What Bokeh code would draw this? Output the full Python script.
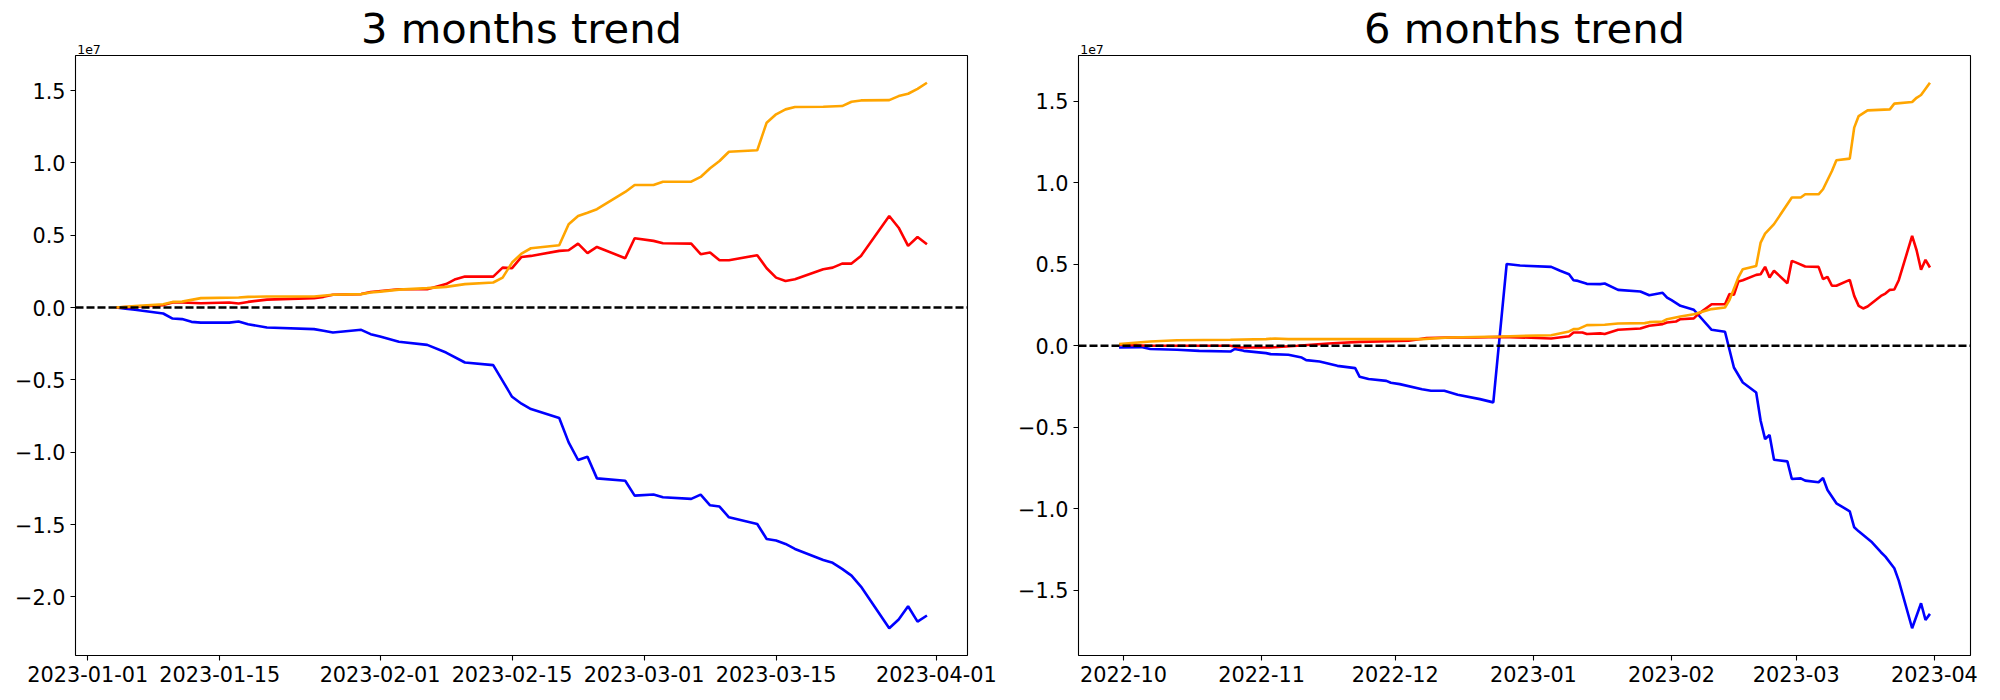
import numpy as np
import pandas as pd
from bokeh.plotting import figure
from bokeh.layouts import row
from bokeh.models import (Range1d, Span, Title, SingleIntervalTicker, FixedTicker,
                          DatetimeTickFormatter, CustomJSTickFormatter, AllLabels)
from bokeh.embed import file_html
from bokeh.resources import INLINE

SCALE = 1e7  # values below are in units of 1e7

# ---------------- 3 months panel ----------------
blue_3m_dates = [
    "2023-01-04", "2023-01-05", "2023-01-06", "2023-01-09", "2023-01-10", "2023-01-11", "2023-01-12",
    "2023-01-13", "2023-01-16", "2023-01-17", "2023-01-18", "2023-01-20", "2023-01-25", "2023-01-26",
    "2023-01-27", "2023-01-30", "2023-01-31",
    "2023-02-01", "2023-02-03", "2023-02-06", "2023-02-08", "2023-02-10", "2023-02-13", "2023-02-15",
    "2023-02-16", "2023-02-17", "2023-02-20", "2023-02-21", "2023-02-22", "2023-02-23", "2023-02-24",
    "2023-02-27", "2023-02-28",
    "2023-03-02", "2023-03-03", "2023-03-06", "2023-03-07", "2023-03-08", "2023-03-09", "2023-03-10",
    "2023-03-13", "2023-03-14", "2023-03-15", "2023-03-16", "2023-03-17", "2023-03-20", "2023-03-21",
    "2023-03-22", "2023-03-23", "2023-03-24", "2023-03-27", "2023-03-28", "2023-03-29", "2023-03-30",
    "2023-03-31"]
blue_3m = [
    0.000, -0.008, -0.015, -0.041, -0.076, -0.080, -0.099,
    -0.104, -0.104, -0.097, -0.115, -0.138, -0.149, -0.161,
    -0.173, -0.154, -0.184,
    -0.200, -0.237, -0.258, -0.311, -0.380, -0.398, -0.617,
    -0.665, -0.702, -0.764, -0.932, -1.054, -1.031, -1.181,
    -1.197, -1.300,
    -1.293, -1.312, -1.323, -1.293, -1.367, -1.376, -1.450,
    -1.496, -1.600, -1.611, -1.634, -1.669, -1.745, -1.765,
    -1.807, -1.853, -1.929, -2.217, -2.157, -2.065, -2.171,
    -2.129]

red_3m_dates = [
    "2023-01-04", "2023-01-05", "2023-01-06", "2023-01-09", "2023-01-10", "2023-01-11", "2023-01-13",
    "2023-01-16", "2023-01-17", "2023-01-18", "2023-01-20", "2023-01-25", "2023-01-26", "2023-01-27",
    "2023-01-30", "2023-01-31",
    "2023-02-03", "2023-02-06", "2023-02-08", "2023-02-09", "2023-02-10", "2023-02-13", "2023-02-14",
    "2023-02-15", "2023-02-16", "2023-02-17", "2023-02-20", "2023-02-21", "2023-02-22", "2023-02-23",
    "2023-02-24", "2023-02-27", "2023-02-28",
    "2023-03-02", "2023-03-03", "2023-03-06", "2023-03-07", "2023-03-08", "2023-03-09", "2023-03-10",
    "2023-03-13", "2023-03-14", "2023-03-15", "2023-03-16", "2023-03-17", "2023-03-20", "2023-03-21",
    "2023-03-22", "2023-03-23", "2023-03-24", "2023-03-27", "2023-03-28", "2023-03-29", "2023-03-30",
    "2023-03-31"]
red_3m = [
    0.000, 0.003, 0.005, 0.017, 0.035, 0.035, 0.030,
    0.035, 0.028, 0.039, 0.055, 0.065, 0.074, 0.088,
    0.093, 0.108,
    0.127, 0.127, 0.162, 0.196, 0.214, 0.214, 0.276,
    0.272, 0.350, 0.357, 0.392, 0.396, 0.442, 0.376,
    0.419, 0.341, 0.479,
    0.461, 0.445, 0.442, 0.369, 0.380, 0.327, 0.327,
    0.362, 0.272, 0.207, 0.184, 0.196, 0.265, 0.276,
    0.304, 0.304, 0.357, 0.633, 0.552, 0.426, 0.488,
    0.438]

orange_3m_dates = [
    "2023-01-04", "2023-01-06", "2023-01-09", "2023-01-10", "2023-01-11", "2023-01-13", "2023-01-17",
    "2023-01-18", "2023-01-20", "2023-01-25", "2023-01-27", "2023-01-30", "2023-01-31",
    "2023-02-01", "2023-02-03", "2023-02-06", "2023-02-08", "2023-02-10", "2023-02-13", "2023-02-14",
    "2023-02-15", "2023-02-16", "2023-02-17", "2023-02-20", "2023-02-21", "2023-02-22", "2023-02-23",
    "2023-02-24", "2023-02-27", "2023-02-28",
    "2023-03-02", "2023-03-03", "2023-03-06", "2023-03-07", "2023-03-08", "2023-03-09", "2023-03-10",
    "2023-03-13", "2023-03-14", "2023-03-15", "2023-03-16", "2023-03-17", "2023-03-20", "2023-03-22",
    "2023-03-23", "2023-03-24", "2023-03-27", "2023-03-28", "2023-03-29", "2023-03-30", "2023-03-31"]
orange_3m = [
    0.000, 0.010, 0.023, 0.039, 0.041, 0.065, 0.069,
    0.074, 0.076, 0.076, 0.088, 0.093, 0.104,
    0.110, 0.124, 0.134, 0.143, 0.162, 0.173, 0.207,
    0.311, 0.373, 0.410, 0.431, 0.576, 0.633, 0.656,
    0.680, 0.799, 0.847,
    0.847, 0.870, 0.870, 0.903, 0.963, 1.013, 1.077,
    1.087, 1.278, 1.336, 1.370, 1.386, 1.388, 1.393,
    1.423, 1.432, 1.434, 1.462, 1.478, 1.512, 1.554]

xticks_3m = ["2023-01-01", "2023-01-15", "2023-02-01", "2023-02-15", "2023-03-01", "2023-03-15", "2023-04-01"]

# ---------------- 6 months panel ----------------
blue_6m_dates = [
    "2022-09-30", "2022-10-05", "2022-10-07", "2022-10-13", "2022-10-18", "2022-10-25", "2022-10-26",
    "2022-10-28", "2022-11-02", "2022-11-03", "2022-11-07", "2022-11-10", "2022-11-11", "2022-11-14",
    "2022-11-18", "2022-11-22", "2022-11-23", "2022-11-25", "2022-11-29", "2022-11-30", "2022-12-02",
    "2022-12-07", "2022-12-09", "2022-12-12", "2022-12-15", "2022-12-20", "2022-12-23", "2022-12-26",
    "2022-12-29",
    "2023-01-05", "2023-01-07", "2023-01-09", "2023-01-10", "2023-01-11", "2023-01-13", "2023-01-16",
    "2023-01-17", "2023-01-20", "2023-01-25", "2023-01-27", "2023-01-30", "2023-01-31",
    "2023-02-01", "2023-02-03", "2023-02-06", "2023-02-10", "2023-02-13", "2023-02-15", "2023-02-17",
    "2023-02-20", "2023-02-21", "2023-02-22", "2023-02-23", "2023-02-24", "2023-02-27", "2023-02-28",
    "2023-03-02", "2023-03-03", "2023-03-06", "2023-03-07", "2023-03-08", "2023-03-10", "2023-03-13",
    "2023-03-14", "2023-03-15", "2023-03-18", "2023-03-20", "2023-03-21", "2023-03-23", "2023-03-24",
    "2023-03-27", "2023-03-29", "2023-03-30", "2023-03-31"]
blue_6m = [
    -0.010, -0.008, -0.020, -0.024, -0.031, -0.035, -0.019,
    -0.031, -0.045, -0.051, -0.055, -0.072, -0.088, -0.096,
    -0.123, -0.137, -0.190, -0.204, -0.215, -0.227, -0.235,
    -0.266, -0.276, -0.276, -0.300, -0.327, -0.347, 0.502,
    0.492,
    0.484, 0.460, 0.439, 0.402, 0.398, 0.380, 0.378,
    0.382, 0.343, 0.333, 0.310, 0.325, 0.296,
    0.280, 0.245, 0.221, 0.098, 0.086, -0.133, -0.225,
    -0.286, -0.460, -0.572, -0.547, -0.699, -0.709, -0.817,
    -0.813, -0.827, -0.837, -0.811, -0.884, -0.966, -1.015,
    -1.113, -1.138, -1.205, -1.266, -1.293, -1.364, -1.440,
    -1.732, -1.579, -1.681, -1.644]

red_6m_dates = [
    "2022-09-30", "2022-10-07", "2022-10-25", "2022-10-27", "2022-11-03", "2022-11-09", "2022-11-16",
    "2022-11-23", "2022-12-04", "2022-12-08", "2022-12-13", "2022-12-19", "2022-12-25",
    "2023-01-05", "2023-01-09", "2023-01-10", "2023-01-12", "2023-01-13", "2023-01-16", "2023-01-17",
    "2023-01-20", "2023-01-25", "2023-01-27", "2023-01-30", "2023-01-31",
    "2023-02-02", "2023-02-03", "2023-02-06", "2023-02-07", "2023-02-10", "2023-02-13", "2023-02-14",
    "2023-02-15", "2023-02-16", "2023-02-17", "2023-02-20", "2023-02-21", "2023-02-22", "2023-02-23",
    "2023-02-24", "2023-02-27", "2023-02-28",
    "2023-03-01", "2023-03-03", "2023-03-06", "2023-03-07", "2023-03-08", "2023-03-09", "2023-03-10",
    "2023-03-13", "2023-03-14", "2023-03-15", "2023-03-16", "2023-03-17", "2023-03-20", "2023-03-21",
    "2023-03-22", "2023-03-23", "2023-03-24", "2023-03-27", "2023-03-28", "2023-03-29", "2023-03-30",
    "2023-03-31"]
red_6m = [
    0.006, 0.000, 0.000, -0.010, -0.010, 0.000, 0.014,
    0.024, 0.031, 0.047, 0.051, 0.051, 0.055,
    0.045, 0.059, 0.082, 0.082, 0.072, 0.076, 0.072,
    0.098, 0.106, 0.123, 0.133, 0.143,
    0.149, 0.163, 0.168, 0.194, 0.255, 0.255, 0.317,
    0.313, 0.394, 0.402, 0.435, 0.439, 0.484, 0.419,
    0.460, 0.384, 0.521,
    0.510, 0.486, 0.484, 0.409, 0.423, 0.368, 0.368,
    0.404, 0.306, 0.245, 0.229, 0.241, 0.306, 0.320,
    0.343, 0.345, 0.402, 0.674, 0.586, 0.466, 0.527,
    0.480]

orange_6m_dates = [
    "2022-09-30", "2022-10-07", "2022-10-13", "2022-10-25", "2022-11-02", "2022-11-04", "2022-11-07",
    "2022-12-07", "2022-12-13", "2022-12-25",
    "2023-01-05", "2023-01-09", "2023-01-10", "2023-01-11", "2023-01-13", "2023-01-17", "2023-01-20",
    "2023-01-26", "2023-01-27", "2023-01-30", "2023-01-31",
    "2023-02-03", "2023-02-06", "2023-02-10", "2023-02-13", "2023-02-14", "2023-02-16", "2023-02-17",
    "2023-02-20", "2023-02-21", "2023-02-22", "2023-02-24", "2023-02-28",
    "2023-03-02", "2023-03-03", "2023-03-06", "2023-03-07", "2023-03-09", "2023-03-10", "2023-03-13",
    "2023-03-14", "2023-03-15", "2023-03-17", "2023-03-22", "2023-03-23", "2023-03-27", "2023-03-28",
    "2023-03-29", "2023-03-31"]
orange_6m = [
    0.010, 0.026, 0.034, 0.037, 0.041, 0.045, 0.041,
    0.041, 0.051, 0.057,
    0.065, 0.088, 0.102, 0.102, 0.127, 0.129, 0.137,
    0.139, 0.145, 0.149, 0.163,
    0.180, 0.194, 0.225, 0.235, 0.280, 0.419, 0.470,
    0.490, 0.633, 0.688, 0.746, 0.909,
    0.909, 0.929, 0.929, 0.960, 1.072, 1.138, 1.148,
    1.338, 1.409, 1.444, 1.450, 1.485, 1.495, 1.521,
    1.538, 1.613]

xticks_6m = ["2022-10-01", "2022-11-01", "2022-12-01", "2023-01-01", "2023-02-01", "2023-03-01", "2023-04-01"]

FONT = "DejaVu Sans"
FRAME_W = 892
FRAME_H = 600
BORDER_TOP = 55
BORDER_BOTTOM = 37
FIG_H = BORDER_TOP + FRAME_H + BORDER_BOTTOM
LINE_W = 2.6


def to_ms(dates):
    return (pd.to_datetime(dates).astype("int64") // 10**6).to_numpy().astype(float)


def make_panel(title, series, xticks, xfmt, width, left):
    xs_all = np.concatenate([to_ms(d) for d, _, _ in series])
    ys_all = np.concatenate([np.array(v) * SCALE for _, v, _ in series])
    xmin, xmax = xs_all.min(), xs_all.max()
    ymin, ymax = ys_all.min(), ys_all.max()
    xpad = 0.05 * (xmax - xmin)
    ypad = 0.05 * (ymax - ymin)
    x0, x1 = xmin - xpad, xmax + xpad
    y0, y1 = ymin - ypad, ymax + ypad

    p = figure(width=width, height=FIG_H, x_axis_type="datetime", title=None,
               x_range=Range1d(x0, x1), y_range=Range1d(y0, y1),
               output_backend="svg", toolbar_location=None,
               min_border_left=left, min_border_right=width - left - FRAME_W,
               min_border_top=BORDER_TOP, min_border_bottom=BORDER_BOTTOM)
    p.grid.visible = False
    p.outline_line_color = "black"
    p.outline_line_width = 1.1
    p.background_fill_color = "white"
    p.border_fill_color = "white"

    # scale marker next to the frame, then the main title above it
    p.add_layout(Title(text="1e7", align="left", text_font=FONT, text_font_size="12.5px",
                       text_font_style="normal", text_color="black",
                       standoff=4, offset=1.7), "above")
    p.add_layout(Title(text=title, align="center", text_font=FONT, text_font_size="41.7px",
                       text_font_style="normal", text_color="black",
                       standoff=-25, offset=0), "above")

    for dates, vals, color in series:
        p.line(x=to_ms(dates), y=np.array(vals) * SCALE, line_color=color, line_width=LINE_W)

    p.add_layout(Span(location=0, dimension="width", line_color="black",
                      line_dash="8 3", line_width=LINE_W))

    p.xaxis.ticker = FixedTicker(ticks=list(to_ms(xticks)))
    p.xaxis.formatter = DatetimeTickFormatter(
        microseconds=xfmt, milliseconds=xfmt, seconds=xfmt, minsec=xfmt, minutes=xfmt,
        hourmin=xfmt, hours=xfmt, days=xfmt, months=xfmt, years=xfmt)
    p.yaxis.ticker = SingleIntervalTicker(interval=0.5 * SCALE, num_minor_ticks=0)
    p.yaxis.formatter = CustomJSTickFormatter(
        code="return (tick/1e7).toFixed(1).replace('-', '\u2212');")
    for ax in (p.xaxis, p.yaxis):
        ax.axis_line_color = None
        ax.major_tick_out = 5
        ax.major_tick_in = 0
        ax.major_tick_line_width = 1.1
        ax.major_tick_line_color = "black"
        ax.minor_tick_line_color = None
        ax.major_label_text_font = FONT
        ax.major_label_text_font_size = "20.8px"
        ax.major_label_text_color = "black"
        ax.major_label_standoff = 5
        ax.major_label_policy = AllLabels()
    return p


p1 = make_panel("3 months trend",
                [(blue_3m_dates, blue_3m, "blue"),
                 (red_3m_dates, red_3m, "red"),
                 (orange_3m_dates, orange_3m, "orange")],
                xticks_3m, "%Y-%m-%d", width=1000, left=75)
p2 = make_panel("6 months trend",
                [(blue_6m_dates, blue_6m, "blue"),
                 (red_6m_dates, red_6m, "red"),
                 (orange_6m_dates, orange_6m, "orange")],
                xticks_6m, "%Y-%m", width=995, left=78)

layout = row(p1, p2)
open("out.html", "w").write(file_html(layout, INLINE))
